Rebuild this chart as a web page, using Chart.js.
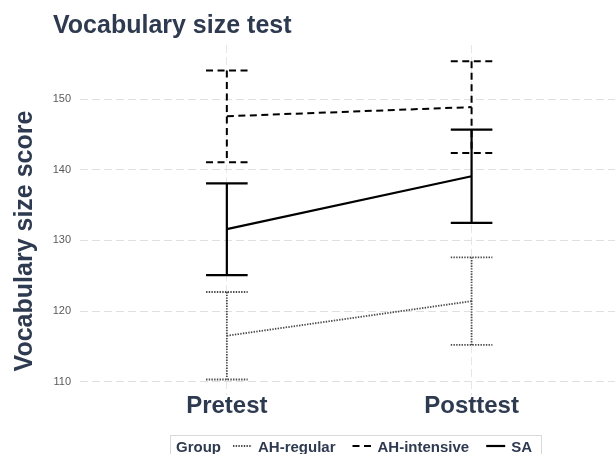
<!DOCTYPE html>
<html>
<head>
<meta charset="utf-8">
<script src="https://cdn.jsdelivr.net/npm/chart.js@4"></script>
<style>
  html, body { margin: 0; padding: 0; background: #fff; overflow: hidden; }
  #wrap { width: 615px; height: 454px; }
</style>
</head>
<body>
<div id="wrap"><canvas id="chart" width="615" height="454"></canvas></div>
<script>
// categorias del eje x
var categories = ['Pretest', 'Posttest'];
var yTicks = [110, 120, 130, 140, 150];

// medias y extremos de las barras de error por grupo
var regularMean = [116.5, 121.4];
var regularLow = [110.3, 115.2];
var regularHigh = [122.7, 127.6];

var intensiveMean = [147.6, 148.9];
var intensiveLow = [141.1, 142.4];
var intensiveHigh = [154.1, 155.4];

var saMean = [131.6, 139.1];
var saLow = [125.1, 132.5];
var saHigh = [138.1, 145.7];

var darkText = '#2e3a4f';
var capHalf = 0.085;

function toPoints(values) {
    return values.map(function(v, i) {
        return { x: i + 1, y: v };
    });
}

// Dibuja las barras de error con las escalas del grafico
var errorBars = {
    id: 'errorBars',
    afterDatasetsDraw: function(chart) {
        var ctx = chart.ctx;
        var xs = chart.scales.x;
        var ys = chart.scales.y;
        chart.data.datasets.forEach(function(ds) {
            ctx.save();
            ctx.strokeStyle = ds.borderColor;
            ctx.lineWidth = ds.borderWidth;
            ctx.setLineDash(ds.borderDash || []);
            ctx.lineCap = 'butt';
            ds.low.forEach(function(lo, i) {
                var hi = ds.high[i];
                var x = xs.getPixelForValue(i + 1);
                var x0 = xs.getPixelForValue(i + 1 - capHalf);
                var x1 = xs.getPixelForValue(i + 1 + capHalf);
                var yl = ys.getPixelForValue(lo);
                var yh = ys.getPixelForValue(hi);
                ctx.beginPath();
                ctx.moveTo(x, yh);
                ctx.lineTo(x, yl);
                ctx.moveTo(x0, yh);
                ctx.lineTo(x1, yh);
                ctx.moveTo(x0, yl);
                ctx.lineTo(x1, yl);
                ctx.stroke();
            });
            ctx.restore();
        });
    }
};

// Titulo, titulo del eje y y leyenda
var decorations = {
    id: 'decorations',
    afterDraw: function(chart) {
        var ctx = chart.ctx;
        ctx.save();
        ctx.fillStyle = darkText;
        ctx.font = 'bold 25px "Liberation Sans", Arial, sans-serif';
        ctx.textAlign = 'left';
        ctx.textBaseline = 'alphabetic';
        ctx.fillText('Vocabulary size test', 53, 33);

        ctx.save();
        ctx.translate(32, 241);
        ctx.rotate(-Math.PI / 2);
        ctx.textAlign = 'center';
        ctx.fillText('Vocabulary size score', 0, 0);
        ctx.restore();

        // leyenda
        ctx.strokeStyle = '#d9d9d9';
        ctx.lineWidth = 1;
        ctx.strokeRect(170.5, 435.5, 371, 30);
        ctx.font = 'bold 15px "Liberation Sans", Arial, sans-serif';
        ctx.fillStyle = darkText;
        var x = 176;
        var yBase = 451.5;
        var yLine = 446;
        ctx.fillText('Group', x, yBase);
        x += ctx.measureText('Group').width + 12;
        chart.data.datasets.forEach(function(ds) {
            ctx.save();
            ctx.strokeStyle = ds.borderColor;
            ctx.lineWidth = ds.borderWidth;
            ctx.setLineDash(ds.borderDash || []);
            ctx.beginPath();
            ctx.moveTo(x, yLine);
            ctx.lineTo(x + 19, yLine);
            ctx.stroke();
            ctx.restore();
            x += 25;
            ctx.fillText(ds.label, x, yBase);
            x += ctx.measureText(ds.label).width + 17;
        });
        ctx.restore();
    }
};

var ctx = document.getElementById('chart').getContext('2d');

new Chart(ctx, {
    type: 'line',
    data: {
        datasets: [{
            label: 'AH-regular',
            data: toPoints(regularMean),
            low: regularLow,
            high: regularHigh,
            borderColor: '#4a4a4a',
            borderWidth: 1.8,
            borderDash: [1.4, 1.3]
        }, {
            label: 'AH-intensive',
            data: toPoints(intensiveMean),
            low: intensiveLow,
            high: intensiveHigh,
            borderColor: '#000000',
            borderWidth: 2,
            borderDash: [7, 4.5]
        }, {
            label: 'SA',
            data: toPoints(saMean),
            low: saLow,
            high: saHigh,
            borderColor: '#000000',
            borderWidth: 2.2,
            borderDash: []
        }]
    },
    options: {
        responsive: false,
        animation: false,
        layout: { padding: { top: 45, left: 0, right: 0, bottom: 0 } },
        elements: {
            point: { radius: 0, hoverRadius: 0 },
            line: { tension: 0 }
        },
        plugins: {
            legend: { display: false },
            title: { display: false },
            tooltip: { enabled: false }
        },
        scales: {
            x: {
                type: 'linear',
                min: 0.4,
                max: 2.586,
                afterBuildTicks: function(scale) {
                    scale.ticks = categories.map(function(c, i) { return { value: i + 1 }; });
                },
                afterFit: function(scale) {
                    scale.height = 59;
                },
                ticks: {
                    padding: -3,
                    color: darkText,
                    font: { family: '"Liberation Sans", Arial, sans-serif', size: 24, weight: 'bold' },
                    callback: function(value) {
                        return categories[value - 1];
                    }
                },
                grid: { color: '#e6e6e6', lineWidth: 1, drawTicks: false },
                border: { display: false, dash: [8, 4] }
            },
            y: {
                min: 108.1,
                max: 157.7,
                afterBuildTicks: function(scale) {
                    scale.ticks = yTicks.map(function(v) { return { value: v }; });
                },
                afterFit: function(scale) {
                    scale.width = 80;
                },
                ticks: {
                    padding: 9,
                    color: '#5a5a5a',
                    font: { family: '"Liberation Sans", Arial, sans-serif', size: 11 }
                },
                grid: { color: '#e0e0e0', lineWidth: 1, drawTicks: false },
                border: { display: false, dash: [8, 4] }
            }
        }
    },
    plugins: [errorBars, decorations]
});
</script>
</body>
</html>
